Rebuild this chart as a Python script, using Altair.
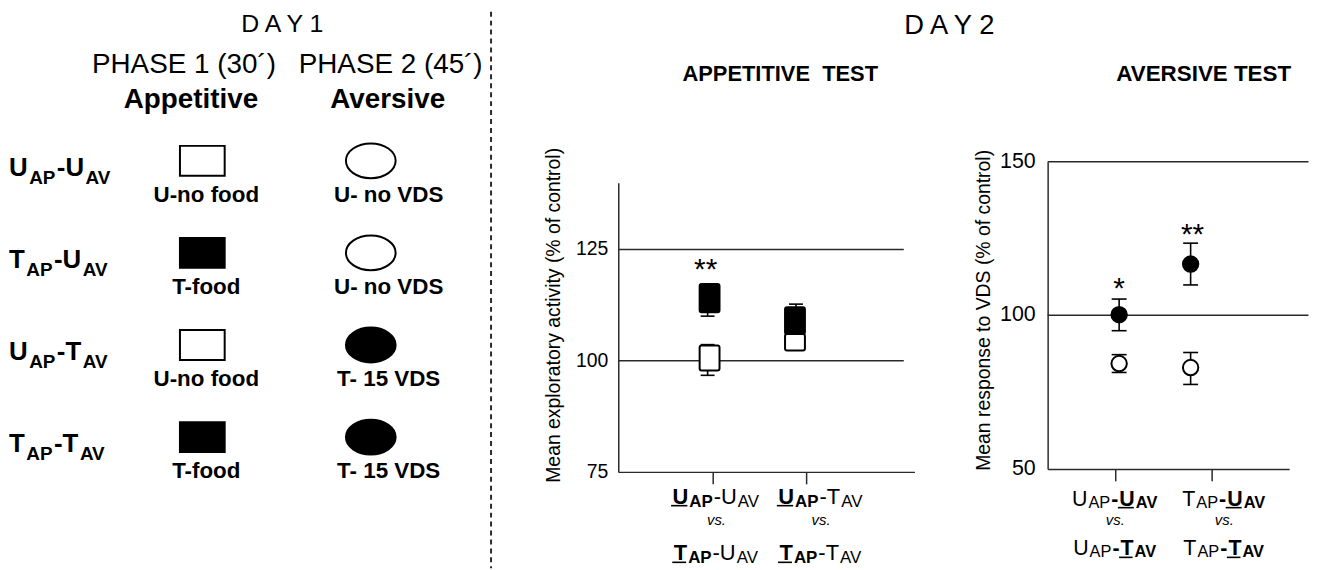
import altair as alt
import pandas as pd

# ---------------- data ----------------
groups = ["U_AP-U_AV", "T_AP-U_AV", "U_AP-T_AV", "T_AP-T_AV"]
phases = ["Appetitive", "Aversive"]
phase_titles = ["PHASE 1 (30´)", "PHASE 2 (45´)"]
day_titles = ["D A Y 1", "D A Y 2"]
test_titles = ["APPETITIVE\u00a0 TEST", "AVERSIVE TEST"]
phase1_trained = [False, True, False, True]
phase2_trained = [False, False, True, True]
phase1_labels = ["U-no food", "T-food", "U-no food", "T-food"]
phase2_labels = ["U- no VDS", "U- no VDS", "T- 15 VDS", "T- 15 VDS"]
# (text, bold, subscript, underline)
row_label_runs = [
    [("U", 1, 0, 0), ("AP", 1, 1, 0), ("-U", 1, 0, 0), ("AV", 1, 1, 0)],
    [("T", 1, 0, 0), ("AP", 1, 1, 0), ("-U", 1, 0, 0), ("AV", 1, 1, 0)],
    [("U", 1, 0, 0), ("AP", 1, 1, 0), ("-T", 1, 0, 0), ("AV", 1, 1, 0)],
    [("T", 1, 0, 0), ("AP", 1, 1, 0), ("-T", 1, 0, 0), ("AV", 1, 1, 0)],
]

# Appetitive test
app_title = "Mean exploratory activity (% of control)"
app_ticks = [1, 2]
app_yticks = [75, 100, 125]
app_box_x = [0.97, 0.97, 1.88, 1.88]
app_box_lo = [110.9, 97.8, 106.0, 102.3]
app_box_hi = [117.2, 103.4, 112.0, 106.0]
app_box_fill = ["black", "white", "black", "white"]
app_err_x = [0.97, 0.97, 1.88]
app_err_lo = [110.0, 96.7, 106.0]
app_err_hi = [117.2, 103.6, 112.7]
app_ref = [100, 125]
app_star_x = [0.95]
app_star_y = [118.4]
app_star_text = ["**"]
app_xlabel_runs = [
    ([("U", 1, 0, 1), ("AP", 1, 1, 0), ("-U", 0, 0, 0), ("AV", 0, 1, 0)],
     [("T", 1, 0, 1), ("AP", 1, 1, 0), ("-U", 0, 0, 0), ("AV", 0, 1, 0)]),
    ([("U", 1, 0, 1), ("AP", 1, 1, 0), ("-T", 0, 0, 0), ("AV", 0, 1, 0)],
     [("T", 1, 0, 1), ("AP", 1, 1, 0), ("-T", 0, 0, 0), ("AV", 0, 1, 0)]),
]

# Aversive test
av_title = "Mean response to VDS (% of control)"
av_ticks = [1, 2]
av_yticks = [50, 100, 150]
av_x = [1.04, 1.04, 1.78, 1.78]
av_mean = [100.2, 84.3, 116.7, 83.0]
av_lo = [95.0, 81.4, 109.9, 77.5]
av_hi = [105.3, 87.2, 123.5, 87.9]
av_fill = ["black", "white", "black", "white"]
av_ref = [100, 150]
av_star_x = [1.04, 1.80]
av_star_y = [105.6, 123.1]
av_star_text = ["*", "**"]
av_xlabel_runs = [
    ([("U", 0, 0, 0), ("AP", 0, 1, 0), ("-", 1, 0, 0), ("U", 1, 0, 1), ("AV", 1, 1, 0)],
     [("U", 0, 0, 0), ("AP", 0, 1, 0), ("-", 1, 0, 0), ("T", 1, 0, 1), ("AV", 1, 1, 0)]),
    ([("T", 0, 0, 0), ("AP", 0, 1, 0), ("-", 1, 0, 0), ("U", 1, 0, 1), ("AV", 1, 1, 0)],
     [("T", 0, 0, 0), ("AP", 0, 1, 0), ("-", 1, 0, 0), ("T", 1, 0, 1), ("AV", 1, 1, 0)]),
]
vs_text = "vs."

# ---------------- layout ----------------
FONT = "Liberation Sans"
W, H = 1316, 562
INK = "#2a2a2a"

ROW_RANGE = [152, 430]
COL_RANGE = [195.5, 365]
APP_XD, APP_XR = [0.05, 3.1], [614, 912]
APP_YD, APP_YR = [75, 140], [465, 174]
AV_XD, AV_XR = [0.3, 2.8], [1046, 1289]
AV_YD, AV_YR = [50, 150], [462, 153]

REG = {'U': .722, 'T': .611, 'A': .667, 'P': .667, 'V': .667, '-': .333}
BLD = {'U': .722, 'T': .611, 'A': .722, 'P': .667, 'V': .667, '-': .333}


def lin(v, d, r):
    return r[0] + (v - d[0]) / (d[1] - d[0]) * (r[1] - r[0])


def run_w(t, bold, fs):
    tab = BLD if bold else REG
    return sum(tab[c] for c in t) * fs


def place_runs(runs, x0, base, main, sub, drop, anchor="center", gap=1.0):
    widths = [run_w(t, b, sub if s else main) for t, b, s, u in runs]
    total = sum(widths) + gap * (len(runs) - 1)
    x = x0 - total / 2 if anchor == "center" else x0
    pieces, lines = [], []
    for (t, b, s, u), w in zip(runs, widths):
        pieces.append(dict(px=x, py=base + (drop if s else 0), text=t,
                           fs=sub if s else main, bold=bool(b)))
        if u:
            lines.append(dict(x1=x - 1.5, x2=x + w - 1, y=base + 2))
        x += w + gap
    return pieces, lines


pieces, ulines, vs_rows = [], [], []
# row labels of the schematic
for i, runs in enumerate(row_label_runs):
    ry = ROW_RANGE[0] + i * (ROW_RANGE[1] - ROW_RANGE[0]) / 3
    p, l = place_runs(runs, 1, ry + 15, 26, 19, 8, anchor="left", gap=1.5)
    pieces += p
    ulines += l
# x-axis labels
for runs_pair, tick, off in zip(app_xlabel_runs, app_ticks, [6, 13.5]):
    cx = lin(tick, APP_XD, APP_XR) + off
    for runs, base in zip(runs_pair, [497, 554]):
        p, l = place_runs(runs, cx, base, 22, 17, 3)
        pieces += p
        ulines += l
    vs_rows.append(dict(px=cx, py=518, text=vs_text))
for runs_pair, tick, off in zip(av_xlabel_runs, av_ticks, [0, 12.5]):
    cx = lin(tick, AV_XD, AV_XR) + off
    for runs, base in zip(runs_pair, [499, 549]):
        p, l = place_runs(runs, cx, base, 21.5, 16.5, 2)
        pieces += p
        ulines += l
    vs_rows.append(dict(px=cx, py=518, text=vs_text))

header_pos = [  # text, x, baseline, size, bold
    (day_titles[0], 276, 22, 25, False),
    (day_titles[1], 947, 24, 27.5, False),
    (phase_titles[0], 177, 64, 28, False),
    (phase_titles[1], 385, 64, 28, False),
    (phases[0], 184, 98.5, 28, True),
    (phases[1], 382, 98.5, 28, True),
    (test_titles[0], 777, 72, 22, True),
    (test_titles[1], 1203, 72, 22.5, True),
]
headers = pd.DataFrame(header_pos, columns=["text", "px", "py", "fs", "bold"])
lab = pd.DataFrame(pieces)
ul = pd.DataFrame(ulines)
vs = pd.DataFrame(vs_rows)

PX = alt.X("px:Q", scale=None, axis=None)
PY = alt.Y("py:Q", scale=None, axis=None)

layers = []

# header & label texts
for bold in (True, False):
    for df, align in ((headers, "center"), (lab, "left")):
        sub = df[df.bold == bold]
        layers.append(
            alt.Chart(sub).mark_text(align=align, baseline="alphabetic", font=FONT,
                                     fontWeight="bold" if bold else "normal", color="black")
            .encode(x=PX, y=PY, size=alt.Size("fs:Q", scale=None, legend=None), text="text:N"))
layers.append(
    alt.Chart(ul).mark_rule(color="black", strokeWidth=1.6)
    .encode(x=alt.X("x1:Q", scale=None, axis=None), x2="x2:Q", y=alt.Y("y:Q", scale=None, axis=None)))
layers.append(
    alt.Chart(vs).mark_text(align="center", baseline="alphabetic", font=FONT, fontStyle="italic",
                            fontSize=15, color="black")
    .encode(x=PX, y=PY, text="text:N"))

# dashed divider
layers.append(
    alt.Chart(pd.DataFrame({"a": [0]})).mark_rule(color=INK, strokeWidth=2, strokeDash=[5, 4])
    .encode(x=alt.value(486), y=alt.value(2), y2=alt.value(H)))

# schematic shapes
sch = pd.DataFrame({
    "group": groups * 2,
    "phase": [phases[0]] * 4 + [phases[1]] * 4,
    "fillc": ["black" if t else "white" for t in phase1_trained + phase2_trained],
    "label": phase1_labels + phase2_labels,
})
GX = alt.X("phase:N", scale=alt.Scale(type="point", domain=phases, range=COL_RANGE, padding=0), axis=None)
GY = alt.Y("group:N", scale=alt.Scale(type="point", domain=groups, range=ROW_RANGE, padding=0), axis=None)
RECT = "M-1,-0.6667L1,-0.6667L1,0.6667L-1,0.6667Z"
ELL = ("M-1,0C-1,-0.3866,-0.5523,-0.7,0,-0.7C0.5523,-0.7,1,-0.3866,1,0"
       "C1,0.3866,0.5523,0.7,0,0.7C-0.5523,0.7,-1,0.3866,-1,0Z")
for ph, shape, size, dx in ((phases[0], RECT, 2025, 4), (phases[1], ELL, 2500, 18)):
    d = sch[sch.phase == ph]
    layers.append(
        alt.Chart(d).mark_point(shape=shape, size=size, filled=True, stroke="black",
                                strokeWidth=2, opacity=1)
        .encode(x=GX, y=GY, fill=alt.Fill("fillc:N", scale=None)))
    layers.append(
        alt.Chart(d).mark_text(font=FONT, fontWeight="bold", fontSize=22.5, dy=41, dx=dx,
                               baseline="alphabetic", color="black")
        .encode(x=GX, y=GY, text="label:N"))

axs = dict(domainColor=INK, domainWidth=1.5, grid=False, labels=False,
           titleFont=FONT, titleColor="black", titleFontWeight="normal")


def ylabels(ticks, yscale, xpix, pad, fs):
    return (alt.Chart(pd.DataFrame({"v": ticks}))
            .mark_text(align="right", baseline="middle", font=FONT, fontSize=fs, color="black",
                       dx=-pad)
            .encode(x=alt.value(xpix), y=alt.Y("v:Q", scale=yscale, axis=None), text="v:N"))


# ---------------- appetitive panel ----------------
AXS = alt.Scale(domain=APP_XD, range=APP_XR, nice=False, zero=False)
AYS = alt.Scale(domain=APP_YD, range=APP_YR, nice=False, zero=False)

app_ref_df = pd.DataFrame({"v": app_ref})
layers.append(
    alt.Chart(app_ref_df).mark_rule(color=INK, strokeWidth=1.5)
    .encode(x=alt.X(datum=APP_XD[0], scale=AXS, axis=None), x2=alt.X2(datum=2.99),
            y=alt.Y("v:Q", scale=AYS, axis=None)))
app_err = pd.DataFrame({"x": app_err_x, "lo": app_err_lo, "hi": app_err_hi})
layers.append(
    alt.Chart(app_err).mark_rule(color="black", strokeWidth=1.6)
    .encode(x=alt.X("x:Q", scale=AXS, axis=None), y=alt.Y("lo:Q", scale=AYS, axis=None), y2="hi:Q"))
app_box = pd.DataFrame({"x": app_box_x, "lo": app_box_lo, "hi": app_box_hi, "fillc": app_box_fill})
layers.append(
    alt.Chart(app_box).mark_bar(size=20, stroke="black", strokeWidth=2, cornerRadius=2, opacity=1)
    .encode(
        x=alt.X("x:Q", scale=AXS,
                axis=alt.Axis(orient="bottom", offset=APP_YR[0] - H, values=app_ticks,
                              ticks=True, tickSize=12, tickColor=INK, tickWidth=1.5, title=None, **axs)),
        y=alt.Y("lo:Q", scale=AYS,
                axis=alt.Axis(orient="left", offset=-APP_XR[0], values=app_yticks, ticks=False,
                              title=app_title, titleFontSize=19.5, titleX=-65, titleY=307,
                              titleBaseline="middle", titleAlign="center", **axs)),
        y2="hi:Q", fill=alt.Fill("fillc:N", scale=None)))
layers.append(ylabels(app_yticks, AYS, APP_XR[0], 10, 19.5))
app_caps = pd.DataFrame({"x": app_err_x * 2, "v": app_err_lo + app_err_hi})
layers.append(
    alt.Chart(app_caps).mark_point(shape="M-1,0L1,0", size=196, color="black", strokeWidth=1.6,
                                   filled=False, opacity=1)
    .encode(x=alt.X("x:Q", scale=AXS, axis=None), y=alt.Y("v:Q", scale=AYS, axis=None)))
app_star = pd.DataFrame({"x": app_star_x, "y": app_star_y, "t": app_star_text})
layers.append(
    alt.Chart(app_star).mark_text(font=FONT, fontSize=30, baseline="alphabetic", color="black")
    .encode(x=alt.X("x:Q", scale=AXS, axis=None), y=alt.Y("y:Q", scale=AYS, axis=None), text="t:N"))

# ---------------- aversive panel ----------------
VXS = alt.Scale(domain=AV_XD, range=AV_XR, nice=False, zero=False)
VYS = alt.Scale(domain=AV_YD, range=AV_YR, nice=False, zero=False)
av_ref_df = pd.DataFrame({"v": av_ref})
layers.append(
    alt.Chart(av_ref_df).mark_rule(color=INK, strokeWidth=1.5)
    .encode(x=alt.X(datum=AV_XD[0], scale=VXS, axis=None), x2=alt.X2(datum=3.0),
            y=alt.Y("v:Q", scale=VYS, axis=None)))
av_df = pd.DataFrame({"x": av_x, "m": av_mean, "lo": av_lo, "hi": av_hi, "fillc": av_fill})
layers.append(
    alt.Chart(av_df).mark_rule(color="black", strokeWidth=1.6)
    .encode(x=alt.X("x:Q", scale=VXS, axis=None), y=alt.Y("lo:Q", scale=VYS, axis=None), y2="hi:Q"))
av_caps = pd.DataFrame({"x": av_x * 2, "v": av_lo + av_hi})
layers.append(
    alt.Chart(av_caps).mark_point(shape="M-1,0L1,0", size=225, color="black", strokeWidth=1.6,
                                  filled=False, opacity=1)
    .encode(x=alt.X("x:Q", scale=VXS, axis=None), y=alt.Y("v:Q", scale=VYS, axis=None)))
layers.append(
    alt.Chart(av_df).mark_point(shape="circle", size=240, filled=True, stroke="black",
                                strokeWidth=2, opacity=1)
    .encode(
        x=alt.X("x:Q", scale=VXS,
                axis=alt.Axis(orient="bottom", offset=AV_YR[0] - H, values=av_ticks,
                              ticks=True, tickSize=12, tickColor=INK, tickWidth=1.5, title=None, **axs)),
        y=alt.Y("m:Q", scale=VYS,
                axis=alt.Axis(orient="left", offset=-AV_XR[0], values=av_yticks, ticks=False,
                              title=av_title, titleFontSize=19.5, titleX=-64, titleY=302,
                              titleBaseline="middle", titleAlign="center", **axs)),
        fill=alt.Fill("fillc:N", scale=None)))
layers.append(ylabels(av_yticks, VYS, AV_XR[0], 12, 21.5))
av_star = pd.DataFrame({"x": av_star_x, "y": av_star_y, "t": av_star_text})
layers.append(
    alt.Chart(av_star).mark_text(font=FONT, fontSize=30, baseline="alphabetic", color="black")
    .encode(x=alt.X("x:Q", scale=VXS, axis=None), y=alt.Y("y:Q", scale=VYS, axis=None), text="t:N"))

chart = (
    alt.layer(*layers)
    .resolve_scale(x="independent", y="independent", size="independent", fill="independent")
    .resolve_axis(x="independent", y="independent")
    .properties(width=W, height=H, autosize=alt.AutoSizeParams(type="none"), padding=0,
                background="white")
    .configure_view(strokeWidth=0)
)

chart.save("out.html", embed_options={"renderer": "svg", "actions": False})
